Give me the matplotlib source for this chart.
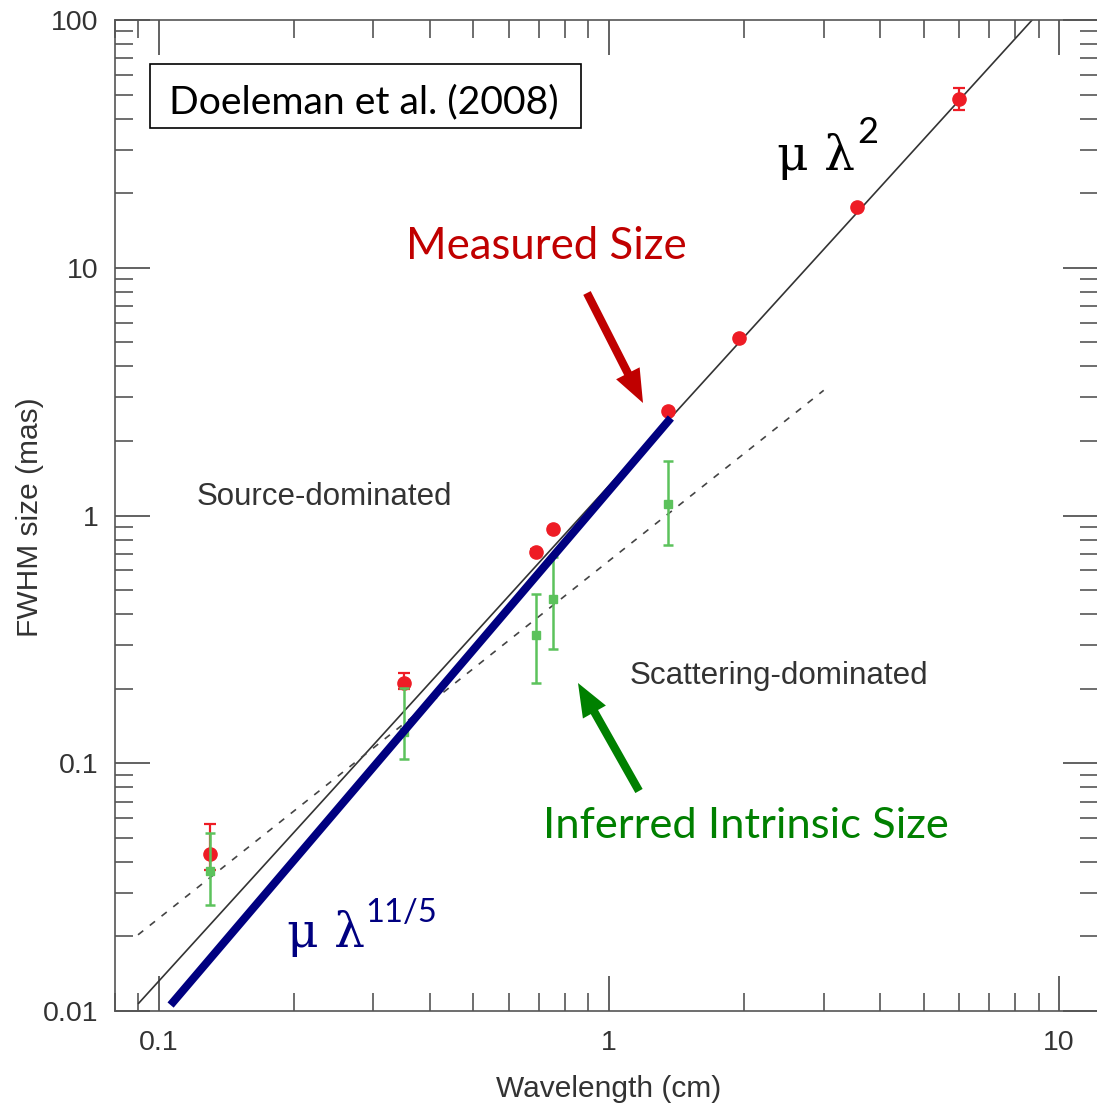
import matplotlib
matplotlib.use("Agg")
import matplotlib.pyplot as plt
from matplotlib.patches import Rectangle
from matplotlib.ticker import FixedLocator, FixedFormatter, LogLocator, NullFormatter

# ---- data -------------------------------------------------------------
# Measured FWHM sizes (mas) vs observing wavelength (cm)
meas_wl = [0.13, 0.35, 0.69, 0.75, 1.35, 1.95, 3.55, 6.0]
meas_size = [0.043, 0.211, 0.713, 0.88, 2.64, 5.2, 17.6, 48.0]
meas_err_lo = [0.006, 0.012, 0.02, 0.02, 0.05, 0.1, 0.3, 4.6]
meas_err_hi = [0.014, 0.02, 0.02, 0.02, 0.05, 0.1, 0.3, 5.2]

# Inferred intrinsic sizes (mas)
intr_wl = [0.13, 0.35, 0.69, 0.75, 1.35]
intr_size = [0.0367, 0.134, 0.33, 0.46, 1.11]
intr_err_lo = [0.0099, 0.030, 0.119, 0.171, 0.35]
intr_err_hi = [0.0156, 0.067, 0.152, 0.22, 0.55]

# Scattering law  size = a * lambda^2
scat_coef = 1.318
scat_wl = [0.0903, 10.0]

# Intrinsic-size fit (dashed)
fit_wl = [0.09, 3.0]
fit_size = [0.0203, 3.2]

# lambda^(11/5) guide line
guide_wl = [0.1063, 1.373]
guide_size = [0.01057, 2.475]

x_ticks = [0.1, 1, 10]
x_tick_labels = ["0.1", "1", "10"]
y_ticks = [0.01, 0.1, 1, 10, 100]
y_tick_labels = ["0.01", "0.1", "1", "10", "100"]

# ---- figure -------------------------------------------------------------
W, H = 1097, 1105
fig = plt.figure(figsize=(W / 100, H / 100), dpi=100)


def fxy(px, py):
    return px / W, 1 - py / H


left, right, top, bottom = 115, 1098, 20, 1011
ax = fig.add_axes([left / W, 1 - bottom / H, (right - left) / W, (bottom - top) / H])
ax.set_xscale("log")
ax.set_yscale("log")
ax.set_xlim(0.08, 12.2)
ax.set_ylim(0.01, 100)

axis_grey = "#555555"
label_grey = "#333333"
sans = ["Liberation Sans", "DejaVu Sans"]

for s in ax.spines.values():
    s.set_color(axis_grey)
    s.set_linewidth(1.2)

ax.xaxis.set_major_locator(FixedLocator(x_ticks))
ax.xaxis.set_major_formatter(FixedFormatter(x_tick_labels))
ax.yaxis.set_major_locator(FixedLocator(y_ticks))
ax.yaxis.set_major_formatter(FixedFormatter(y_tick_labels))
ax.xaxis.set_minor_locator(LogLocator(base=10, subs=range(2, 10), numticks=20))
ax.yaxis.set_minor_locator(LogLocator(base=10, subs=range(2, 10), numticks=20))
ax.xaxis.set_minor_formatter(NullFormatter())
ax.yaxis.set_minor_formatter(NullFormatter())

ax.tick_params(which="both", direction="in", top=True, right=True, color=axis_grey)
ax.tick_params(which="major", length=25, width=1.3, labelsize=20.5, labelcolor=label_grey)
ax.tick_params(which="minor", length=13, width=1.2)
ax.tick_params(axis="x", which="major", pad=14)
ax.tick_params(axis="y", which="major", pad=12)
for lab in ax.get_xticklabels() + ax.get_yticklabels():
    lab.set_family(sans)

# scattering lambda^2 line
lam = [scat_wl[0], scat_wl[1]]
ax.plot(lam, [scat_coef * l ** 2 for l in lam], color="#333333", lw=1.2, zorder=2)
# intrinsic fit (dashed)
ax.plot(fit_wl, fit_size, color="#444444", lw=1.2, ls=(0, (4, 5)), zorder=2)

# measured sizes
ax.errorbar(meas_wl, meas_size, yerr=[meas_err_lo, meas_err_hi], fmt="o",
            color="#ee1c25", ms=9.5, elinewidth=1.6, capsize=4.3, capthick=1.6,
            mec="#ee1c25", zorder=3)
# intrinsic sizes
ax.errorbar(intr_wl, intr_size, yerr=[intr_err_lo, intr_err_hi], fmt="s",
            color="#5cc25c", ms=6, elinewidth=1.8, capsize=3.8, capthick=1.8,
            zorder=4)

# lambda^(11/5) guide
ax.plot(guide_wl, guide_size, color="#000080", lw=5.8, solid_capstyle="butt", zorder=5)

# ---- annotations -----------------------------------------------------------
fig.text(*fxy(30, 517), "FWHM size (mas)", rotation=90, ha="center", va="center",
         fontsize=21.5, color=label_grey, family=sans)
fig.text(*fxy(609, 1097), "Wavelength (cm)", ha="center", va="baseline",
         fontsize=21.5, color=label_grey, family=sans)

fig.text(*fxy(197, 505), "Source-dominated", ha="left", va="baseline",
         fontsize=22.5, color=label_grey, family=sans)
fig.text(*fxy(630, 684), "Scattering-dominated", ha="left", va="baseline",
         fontsize=22.6, color=label_grey, family=sans)

lato = ["Lato", "DejaVu Sans"]
fig.add_artist(Rectangle(fxy(150, 128), 431 / W, 64 / H, transform=fig.transFigure,
                         fill=False, ec="black", lw=1.2))
fig.text(*fxy(364, 113), "Doeleman et al. (2008)", ha="center", va="baseline",
         fontsize=28.2, color="black", family=lato)

fig.text(*fxy(546, 259), "Measured Size", ha="center", va="baseline",
         fontsize=31.5, color="#c00000", family=lato)
fig.text(*fxy(746, 838), "Inferred Intrinsic Size", ha="center", va="baseline",
         fontsize=31.3, color="#008000", family=lato)

serif = ["DejaVu Serif"]
fig.text(*fxy(777, 170), "\u03bc \u03bb", ha="left", va="baseline",
         fontsize=35, color="black", family=serif)
fig.text(*fxy(857, 143), "2", ha="left", va="baseline",
         fontsize=26, color="black", family=lato)
fig.text(*fxy(287, 947), "\u03bc \u03bb", ha="left", va="baseline",
         fontsize=35, color="#000080", family=serif)
fig.text(*fxy(365, 922), "11/5", ha="left", va="baseline",
         fontsize=23.5, color="#000080", family=lato)

arrow_kw = dict(arrowstyle="simple,head_length=1.2,head_width=0.95,tail_width=0.3",
                mutation_scale=20, shrinkA=0, shrinkB=0, lw=0)
ax.annotate("", xy=fxy(643, 403), xycoords="figure fraction",
            xytext=fxy(587, 293), textcoords="figure fraction",
            arrowprops=dict(fc="#c00000", ec="#c00000", **arrow_kw), zorder=6)
ax.annotate("", xy=fxy(578, 683), xycoords="figure fraction",
            xytext=fxy(639, 791), textcoords="figure fraction",
            arrowprops=dict(fc="#008000", ec="#008000", **arrow_kw), zorder=6)

fig.savefig("out.png", dpi=100)
